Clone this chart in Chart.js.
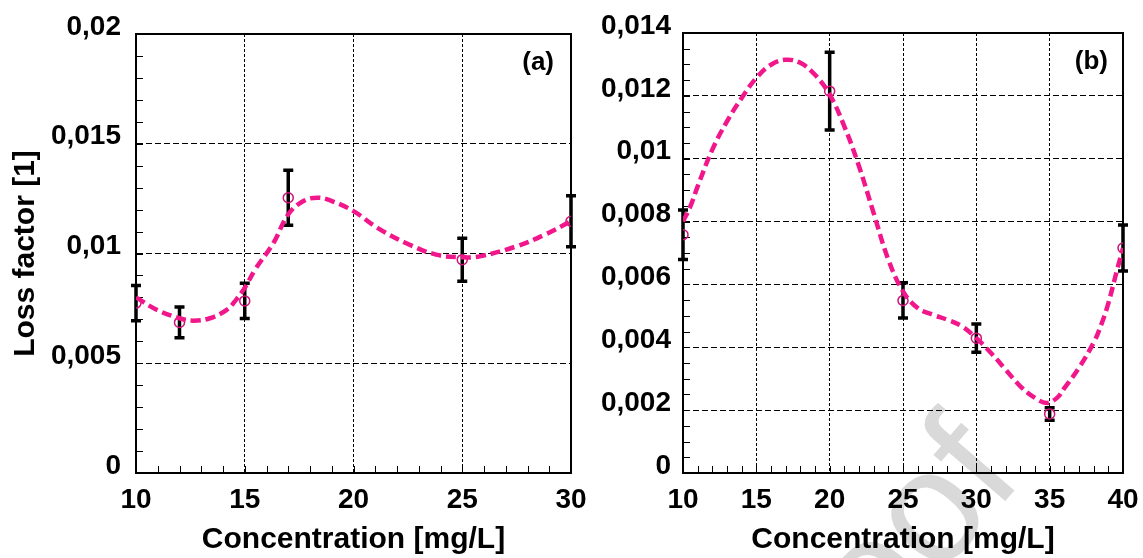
<!DOCTYPE html>
<html>
<head>
<meta charset="utf-8">
<script src="https://cdn.jsdelivr.net/npm/chart.js@4.4.1/dist/chart.umd.min.js"></script>
<style>
  body { margin: 0; background: #fff; }
  #wrap { position: relative; width: 1143px; height: 558px; overflow: hidden; }
  canvas { position: absolute; top: 0; }
</style>
</head>
<body>
<div id="wrap">
  <canvas id="panelA" width="600" height="558" style="left:0"></canvas>
  <canvas id="panelB" width="563" height="558" style="left:580px"></canvas>
</div>
<script>
// panel (a): measured points
const concA = [10, 12, 15, 17, 25, 30];
const lossA = [0.00774, 0.00686, 0.00784, 0.01254, 0.00972, 0.01147];
const errA = [0.0008, 0.0007, 0.0008, 0.00125, 0.00098, 0.00116];
// panel (a): fitted curve
const fitConcA = [10, 10.97, 12, 12.64, 13.4, 14.17, 14.6, 15.04, 15.47, 16.32, 17, 17.7, 18.35, 19, 20, 21.1, 22.4, 23.8, 25, 25.8, 27.5, 28.8, 30];
const fitLossA = [0.0080, 0.00743, 0.00705, 0.00694, 0.00705, 0.00743, 0.00789, 0.0085, 0.00926, 0.01048, 0.01178, 0.01239, 0.01254, 0.01239, 0.01193, 0.01117, 0.01048, 0.00995, 0.00983, 0.00987, 0.01033, 0.01086, 0.01147];

// panel (b): measured points
const concB = [10, 20, 25, 30, 35, 40];
const lossB = [0.00758, 0.01215, 0.00549, 0.00429, 0.00188, 0.00716];
const errB = [0.00079, 0.00124, 0.00056, 0.00045, 0.0002, 0.00073];
// panel (b): fitted curve
const fitConcB = [10, 10.5, 11, 12, 13, 14, 15, 16, 17, 18, 19, 20, 21, 22, 23, 24, 25, 26, 27, 28, 29, 30, 31, 32, 33, 34, 34.8, 35.5, 36, 37, 38, 38.5, 39, 39.6, 40];
const fitLossB = [0.0080, 0.00848, 0.00912, 0.01029, 0.01119, 0.01193, 0.01257, 0.01299, 0.01315, 0.01305, 0.01267, 0.01204, 0.01103, 0.00976, 0.00827, 0.00679, 0.00578, 0.00525, 0.00504, 0.00488, 0.00467, 0.00429, 0.00382, 0.00329, 0.00276, 0.00239, 0.00223, 0.00239, 0.0027, 0.00335, 0.00415, 0.0047, 0.0054, 0.00647, 0.00716];

const FONT = "'Liberation Sans', Arial, sans-serif";
const PINK = "#f2168b";
const MARK = "#d0127a";

const panelPlugin = {
  id: "panelExtras",
  beforeDraw(chart, args, opts) {
    if (!opts.watermark) return;
    const ctx = chart.ctx;
    ctx.save();
    ctx.translate(opts.watermark.x, opts.watermark.y);
    ctx.rotate(opts.watermark.angle);
    ctx.font = "160px " + FONT;
    ctx.fillStyle = "#d9d9d9";
    ctx.textAlign = "right";
    ctx.textBaseline = "alphabetic";
    ctx.fillText(opts.watermark.text, 0, 0);
    ctx.restore();
  },
  beforeDatasetsDraw(chart, args, opts) {
    const ctx = chart.ctx;
    const xs = chart.scales.x;
    const ys = chart.scales.y;
    const area = chart.chartArea;
    ctx.save();
    // minor ticks pointing into the plot
    ctx.strokeStyle = "#000";
    ctx.lineWidth = 1;
    ctx.beginPath();
    for (let v = xs.min; v <= xs.max + 1e-9; v += opts.xMinor) {
      const px = Math.round(xs.getPixelForValue(v)) + 0.5;
      ctx.moveTo(px, area.bottom);
      ctx.lineTo(px, area.bottom - 7);
    }
    for (let i = 0; ys.min + i * opts.yMinor <= ys.max + 1e-12; i++) {
      const py = Math.round(ys.getPixelForValue(ys.min + i * opts.yMinor)) + 0.5;
      ctx.moveTo(area.left, py);
      ctx.lineTo(area.left + 7, py);
    }
    ctx.stroke();
    // frame
    ctx.lineWidth = 2;
    ctx.strokeRect(area.left, area.top, area.right - area.left, area.bottom - area.top);
    // error bars
    const ds = chart.data.datasets[opts.pointSet];
    ctx.lineWidth = 3.5;
    ctx.lineCap = "butt";
    ds.data.forEach((p, i) => {
      const px = xs.getPixelForValue(p.x);
      const top = ys.getPixelForValue(p.y + opts.errors[i]);
      const bot = ys.getPixelForValue(p.y - opts.errors[i]);
      ctx.beginPath();
      ctx.moveTo(px, top);
      ctx.lineTo(px, bot);
      ctx.moveTo(px - 5, top);
      ctx.lineTo(px + 5, top);
      ctx.moveTo(px - 5, bot);
      ctx.lineTo(px + 5, bot);
      ctx.stroke();
    });
    ctx.restore();
  },
  afterDraw(chart, args, opts) {
    const ctx = chart.ctx;
    const area = chart.chartArea;
    ctx.save();
    ctx.font = "bold 26px " + FONT;
    ctx.fillStyle = "#000";
    ctx.textAlign = "right";
    ctx.textBaseline = "middle";
    ctx.fillText(opts.label, area.right - opts.labelGap, area.top + 29);
    ctx.restore();
  }
};

function commaTick(v) {
  return Number(v.toFixed(4)).toString().replace(".", ",");
}

function makePanel(id, conc, loss, fitConc, fitLoss, cfg) {
  const points = conc.map((c, i) => ({ x: c, y: loss[i] }));
  const curve = fitConc.map((c, i) => ({ x: c, y: fitLoss[i] }));
  return new Chart(document.getElementById(id), {
    type: "scatter",
    data: {
      datasets: [
        {
          type: "line",
          data: curve,
          borderColor: PINK,
          borderWidth: 4.5,
          borderDash: [10, 5],
          tension: 0.4,
          pointRadius: 0,
          fill: false
        },
        {
          data: points,
          pointStyle: "circle",
          pointRadius: 5,
          borderColor: MARK,
          borderWidth: 1.5,
          backgroundColor: "rgba(0,0,0,0)"
        }
      ]
    },
    options: {
      responsive: false,
      animation: false,
      layout: { padding: cfg.padding },
      plugins: {
        legend: { display: false },
        tooltip: { enabled: false },
        panelExtras: {
          label: cfg.label,
          labelGap: cfg.labelGap,
          xMinor: 1,
          yMinor: cfg.yMinor,
          pointSet: 1,
          errors: cfg.errors,
          watermark: cfg.watermark
        }
      },
      scales: {
        x: {
          type: "linear",
          min: 10,
          max: cfg.xMax,
          afterFit(scale) {
            scale.height = 85;
            scale.paddingLeft = 0;
            scale.paddingRight = 0;
          },
          ticks: {
            stepSize: 5,
            padding: 10,
            color: "#000",
            font: { family: FONT, size: 28, weight: "bold" }
          },
          grid: { color: "#000", lineWidth: 1, drawTicks: false },
          border: { display: true, color: "#000", width: 2, dash: [3, 2] },
          title: {
            display: true,
            text: "Concentration [mg/L]",
            color: "#000",
            font: { family: FONT, size: 30, weight: "bold" },
            padding: { top: 0, bottom: 0 }
          }
        },
        y: {
          min: 0,
          max: cfg.yMax,
          afterFit(scale) {
            scale.width = cfg.yWidth;
          },
          ticks: {
            stepSize: cfg.yStep,
            padding: cfg.yPad,
            labelOffset: -7,
            color: "#000",
            font: { family: FONT, size: 28, weight: "bold" },
            callback: commaTick
          },
          grid: { color: "#000", lineWidth: 1, drawTicks: false },
          border: { display: true, color: "#000", width: 2, dash: [6, 3] },
          title: {
            display: cfg.yTitle,
            text: "Loss factor [1]",
            color: "#000",
            font: { family: FONT, size: 30, weight: "bold" },
            padding: { top: 8, bottom: 0 }
          }
        }
      }
    },
    plugins: [panelPlugin]
  });
}

makePanel("panelA", concA, lossA, fitConcA, fitLossA, {
  padding: { left: 0, top: 34, right: 29, bottom: 0 },
  xMax: 30,
  yMax: 0.02,
  yStep: 0.005,
  yMinor: 0.001,
  yWidth: 136,
  yPad: 15,
  yTitle: true,
  label: "(a)",
  labelGap: 17,
  errors: errA
});

makePanel("panelB", concB, lossB, fitConcB, fitLossB, {
  padding: { left: 0, top: 33, right: 20, bottom: 0 },
  xMax: 40,
  yMax: 0.014,
  yStep: 0.002,
  yMinor: 0.0005,
  yWidth: 103,
  yPad: 12,
  yTitle: false,
  label: "(b)",
  labelGap: 15,
  errors: errB,
  watermark: { text: "Pre-proof", x: 445, y: 478, angle: -0.86 }
});
</script>
</body>
</html>
